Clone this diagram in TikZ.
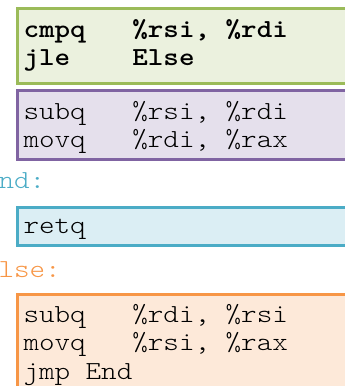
\documentclass[tikz,border=0pt]{standalone}
\usepackage{fontspec}
% Courier-like monospace: light Latin Modern Mono widened to a 15.56pt column
\newfontfamily\codefont{lmmonolt10-regular}[Extension=.otf, BoldFont=lmmonolt10-bold, FakeStretch=1.1396]
\newcommand\colgap[1]{\hspace*{#1\fontcharwd\font`x}}

\definecolor{grnfill}{HTML}{EBF1DE}
\definecolor{grnline}{HTML}{9BBB59}
\definecolor{purfill}{HTML}{E5E0EC}
\definecolor{purline}{HTML}{8064A2}
\definecolor{blufill}{HTML}{DBEEF4}
\definecolor{bluline}{HTML}{4BACC6}
\definecolor{orgfill}{HTML}{FDE9D9}
\definecolor{orgline}{HTML}{F79646}

\begin{document}
\begin{tikzpicture}[x=1pt, y=-1pt,
  codebox/.style={draw, line width=3pt, anchor=north west, inner sep=0pt, minimum width=354.5pt},
  codeline/.style={anchor=base west, inner sep=0pt, outer sep=0pt,
    font=\codefont\fontsize{26pt}{28pt}\selectfont, text=black},
  labeltext/.style={codeline}]
\useasboundingbox (0,0) rectangle (345,386);
\clip (0,0) rectangle (345,386);

% basic blocks
\node[codebox, draw=grnline, fill=grnfill, minimum height=75pt]   (test)  at (15.5,6.5) {};
\node[codebox, draw=purline, fill=purfill, minimum height=69.6pt] (then)  at (15.5,88.7) {};
\node[codebox, draw=bluline, fill=blufill, minimum height=38.5pt] (done)  at (15.5,205.5) {};
\node[codebox, draw=orgline, fill=orgfill, minimum height=107.5pt] (other) at (15.5,292.5) {};

% compare and branch
\node[codeline] (t1) at (23.5,37) {\bfseries cmpq\colgap{3}\%rsi,\colgap{1}\%rdi};
\node[codeline] (t2) at (23.5,65) {\bfseries jle\colgap{4}Else};

% x > y path
\node[codeline] (p1) at (23.5,119) {subq\colgap{3}\%rsi,\colgap{1}\%rdi};
\node[codeline] (p2) at (23.5,147) {movq\colgap{3}\%rdi,\colgap{1}\%rax};

% End label and return
\node[labeltext, text=bluline] (endlbl) at (-17,188) {End:};
\node[codeline] (r1) at (23.5,233) {retq};

% Else label and x <= y path
\node[labeltext, text=orgline] (elselbl) at (-17,277) {Else:};
\node[codeline] (e1) at (23.5,322) {subq\colgap{3}\%rdi,\colgap{1}\%rsi};
\node[codeline] (e2) at (23.5,350.5) {movq\colgap{3}\%rsi,\colgap{1}\%rax};
\node[codeline] (e3) at (23.5,379) {jmp\colgap{1}End};
\end{tikzpicture}
\end{document}
